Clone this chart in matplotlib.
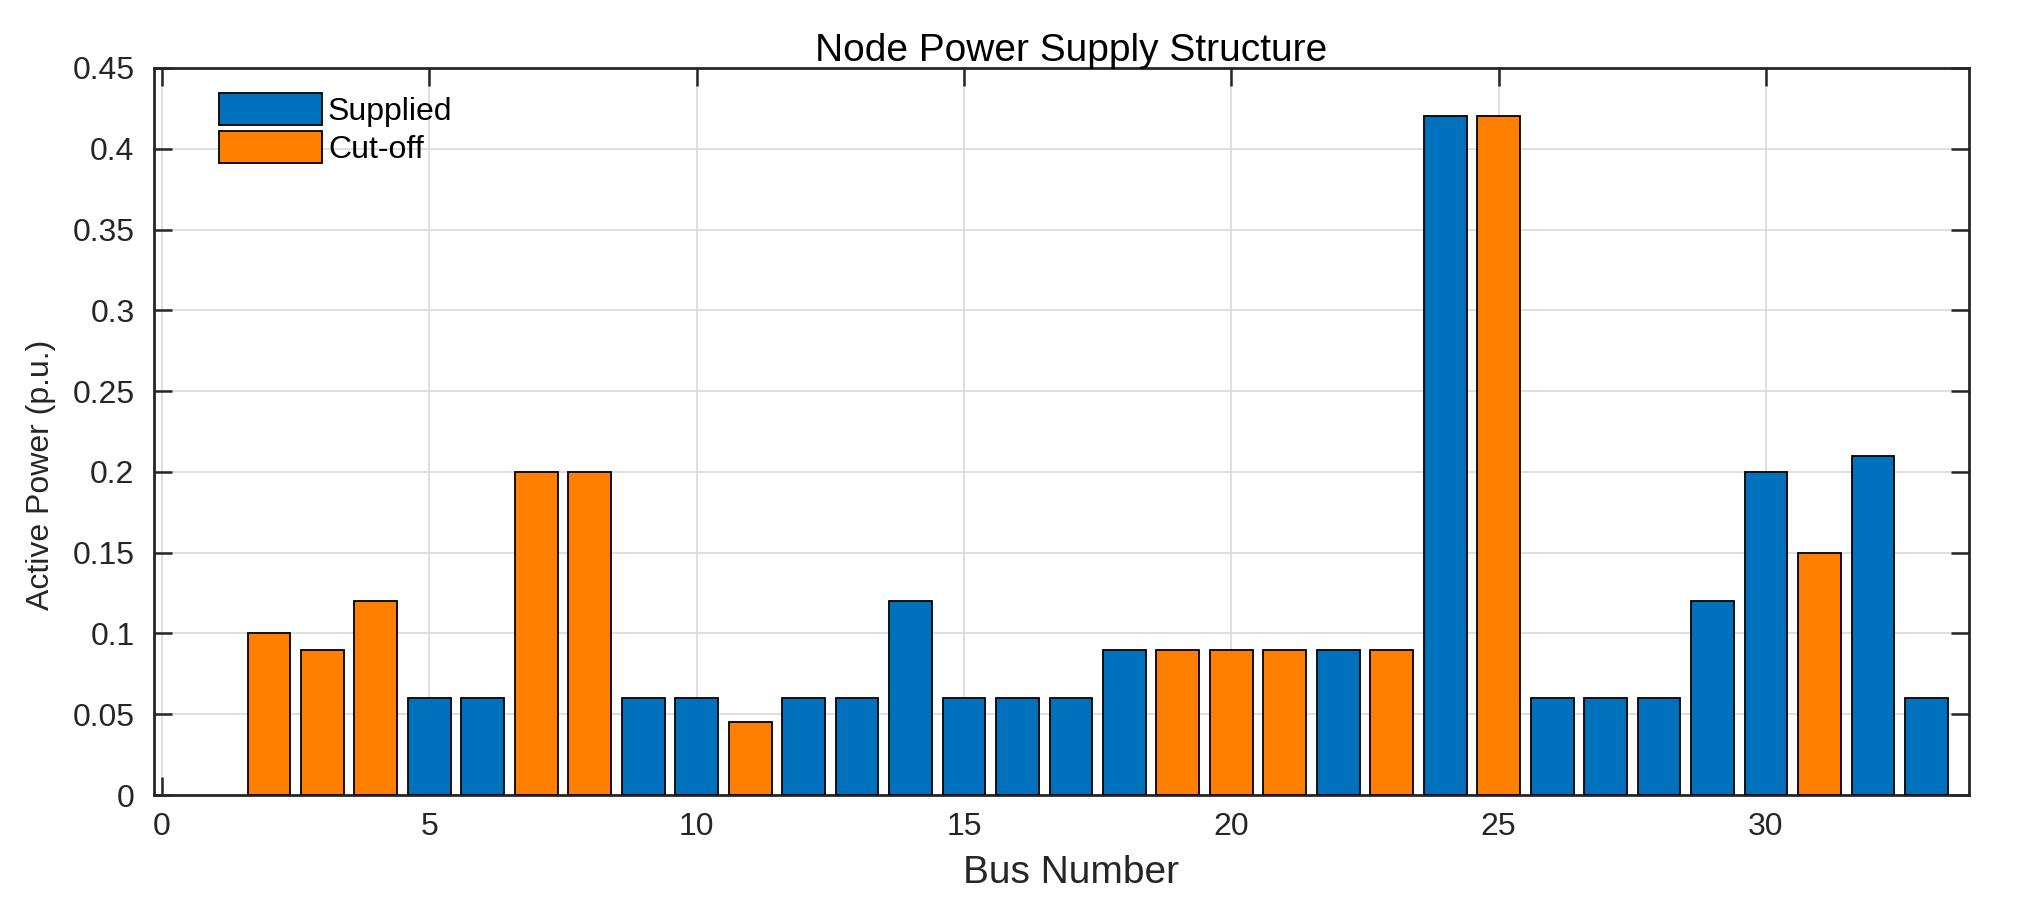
import matplotlib.pyplot as plt
import numpy as np

plt.rcParams['font.family'] = ['Liberation Sans', 'DejaVu Sans']

# bus numbers and load (p.u.)
buses = list(range(2, 34))
loads = [0.10, 0.09, 0.12, 0.06, 0.06, 0.20, 0.20, 0.06, 0.06, 0.045,
         0.06, 0.06, 0.12, 0.06, 0.06, 0.06, 0.09, 0.09, 0.09, 0.09,
         0.09, 0.09, 0.42, 0.42, 0.06, 0.06, 0.06, 0.12, 0.20, 0.15,
         0.21, 0.06]
# 1 = supplied, 0 = cut-off
status = [0, 0, 0, 1, 1, 0, 0, 1, 1, 0,
          1, 1, 1, 1, 1, 1, 1, 0, 0, 0,
          1, 0, 1, 0, 1, 1, 1, 1, 1, 0,
          1, 1]

buses = np.array(buses)
loads = np.array(loads)
status = np.array(status)
supplied = np.where(status == 1, loads, 0)
cutoff = np.where(status == 0, loads, 0)

fig = plt.figure(figsize=(20.18, 9.06), dpi=100)
ax = fig.add_axes([0.0763, 0.1225, 0.8995, 0.8025])

m = status == 1
ax.bar(buses[m], supplied[m], width=0.8, color='#0072BD', edgecolor='black',
       linewidth=1.3, label='Supplied', zorder=3)
m = status == 0
ax.bar(buses[m], cutoff[m], width=0.8, color='#FF8000', edgecolor='black',
       linewidth=1.3, label='Cut-off', zorder=3)

ax.set_xlim(-0.15, 33.8)
ax.set_ylim(0, 0.45)
ax.set_xticks(np.arange(0, 35, 5))
ax.set_yticks(np.arange(0, 0.46, 0.05))
ax.set_yticklabels(['0', '0.05', '0.1', '0.15', '0.2', '0.25', '0.3', '0.35', '0.4', '0.45'])

ax.grid(True, color='#dcdcdc', linewidth=1.3, zorder=0)
ax.tick_params(direction='in', length=13, width=1.8, top=True, right=True,
               labelsize=23, colors='#262626')
ax.tick_params(axis='y', pad=14)
ax.tick_params(axis='x', pad=12)
for s in ax.spines.values():
    s.set_linewidth(2)
    s.set_color('#262626')

ax.set_xlabel('Bus Number', fontsize=28, color='#262626')
ax.xaxis.set_label_coords(0.505, -0.082)
ax.set_ylabel('Active Power (p.u.)', fontsize=23, color='#262626')
ax.yaxis.set_label_coords(-0.054, 0.44)
ax.set_title('Node Power Supply Structure', fontsize=28, x=0.505, pad=5)

ax.legend(loc='upper left', frameon=False, fontsize=23, handlelength=3.2,
          handleheight=1.2, handletextpad=0.2, labelspacing=0.12,
          borderpad=0, borderaxespad=0, bbox_to_anchor=(0.036, 0.966))

fig.savefig('out.png', dpi=100)
